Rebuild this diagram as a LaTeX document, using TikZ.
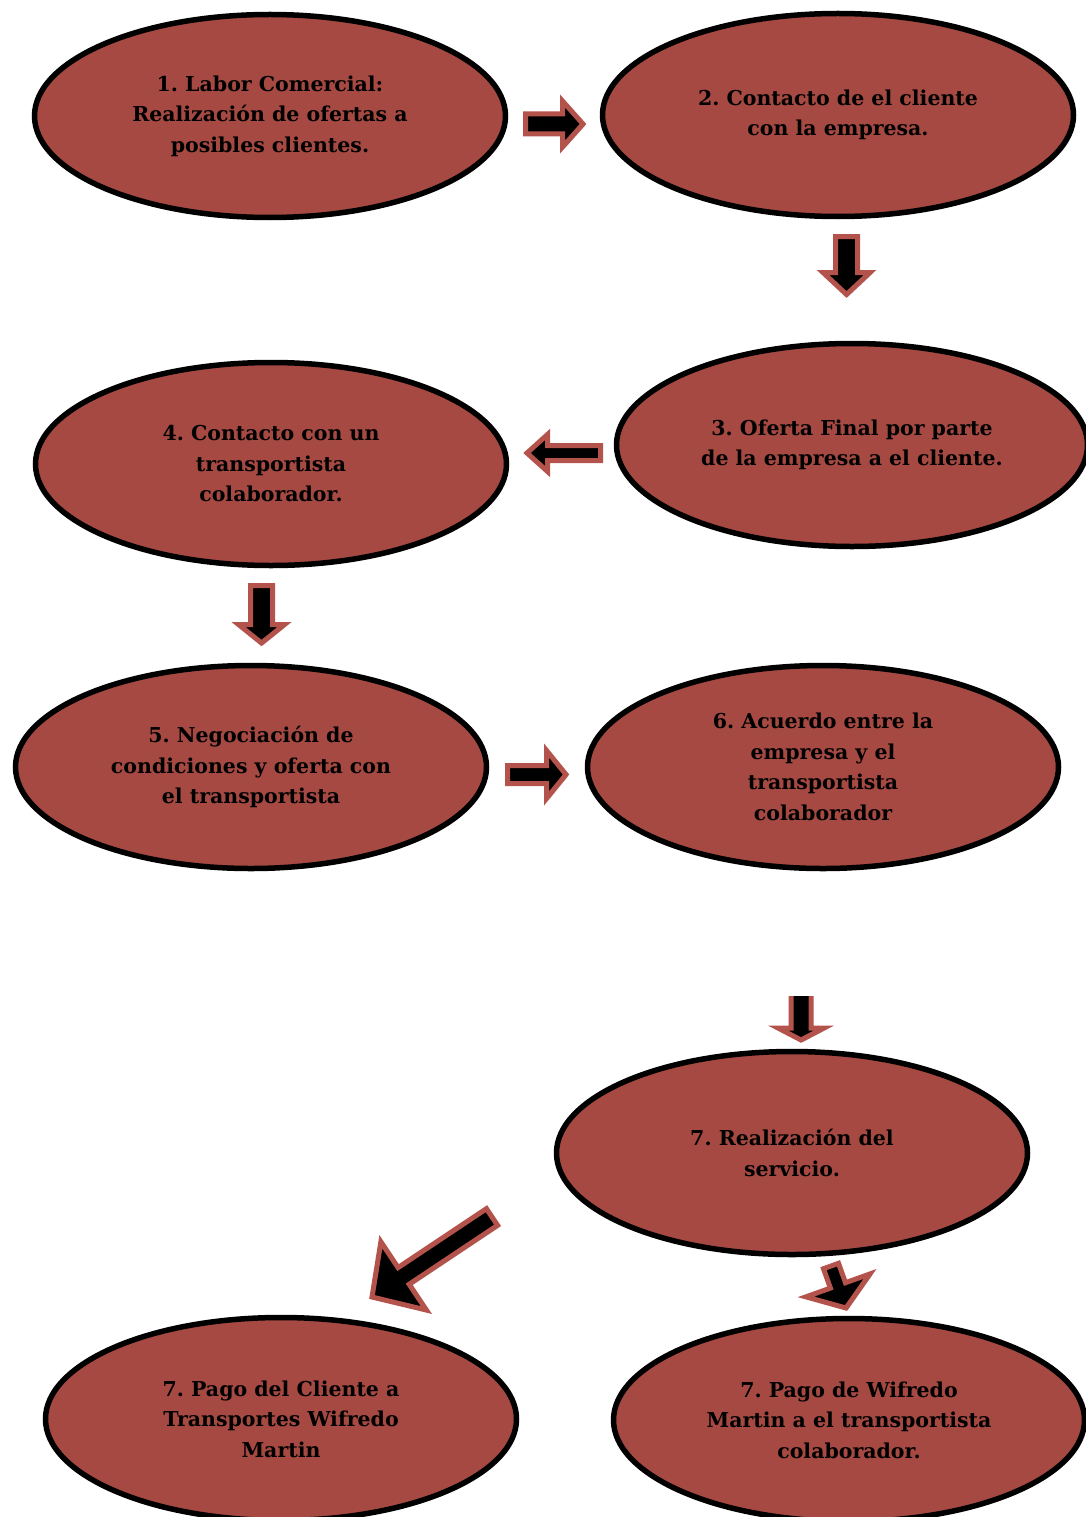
\documentclass[tikz,border=0pt]{standalone}
\usepackage{fontspec}
\setmainfont{DejaVu Serif}
\usetikzlibrary{shapes.geometric,calc,shadows}

\definecolor{stagefill}{RGB}{165,73,66}
\definecolor{arrowred}{RGB}{180,82,76}

\tikzset{
  stage/.style={ellipse, draw=black, line width=5.5pt, fill=stagefill,
    minimum width=471pt, minimum height=203pt, inner sep=0pt, outer sep=0pt,
    align=center, text=black,
    font=\bfseries\fontsize{20.5}{30.5}\selectfont\frenchspacing,
    drop shadow={opacity=0.25, shadow xshift=2pt, shadow yshift=-2pt}},
  blockarrow/.style={draw=arrowred, fill=black, line width=5pt, line join=miter,
    drop shadow={opacity=0.3, shadow xshift=2pt, shadow yshift=-2pt}}
}

% block arrow: name, tail, tip, half shaft width, half head width, head length
\newcommand\blockarrow[6]{%
  \coordinate (#1-tail) at #2;
  \coordinate (#1-tip) at #3;
  \coordinate (#1-base) at ($(#1-tip)!#6!(#1-tail)$);
  \draw[blockarrow]
    ($(#1-tail)!#4!90:(#1-tip)$) -- ($(#1-base)!#4!90:(#1-tip)$) --
    ($(#1-base)!#5!90:(#1-tip)$) -- (#1-tip) --
    ($(#1-base)!#5!-90:(#1-tip)$) -- ($(#1-base)!#4!-90:(#1-tip)$) --
    ($(#1-tail)!#4!-90:(#1-tip)$) -- cycle;
}

\begin{document}
\begin{tikzpicture}[x=1pt, y=-1pt]
\useasboundingbox (0,0) rectangle (1086,1517);
\clip (0,0) rectangle (1086,1517);

% process stages
\node[stage] (s1) at (270,116) {1. Labor Comercial:\\Realización de ofertas a\\posibles clientes.};
\node[stage] (s2) at (838,115) {2. Contacto de el cliente\\con la empresa.};
\node[stage] (s3) at (852,445) {3. Oferta Final por parte\\de la empresa a el cliente.};
\node[stage] (s4) at (271,464) {4. Contacto con un\\transportista\\colaborador.};
\node[stage] (s5) at (251,767) {5. Negociación de\\condiciones y oferta con\\el transportista};
\node[stage] (s6) at (823,767) {6. Acuerdo entre la\\empresa y el\\transportista\\colaborador};
\node[stage] (s7) at (792,1153) {7. Realización del\\servicio.};
\node[stage] (s8) at (281,1419) {7. Pago del Cliente a\\Transportes Wifredo\\Martin};
\node[stage] (s9) at (849,1420) {7. Pago de Wifredo\\Martin a el transportista\\colaborador.};

% flow arrows
\blockarrow{a12}{(525.5,124)}{(583,124)}{10pt}{23pt}{20.5pt}
\blockarrow{a23}{(846.5,236.5)}{(846.5,294.5)}{11pt}{23.5pt}{22pt}
\blockarrow{a34}{(600.5,453)}{(527,453)}{7.5pt}{18.5pt}{20.5pt}
\blockarrow{a45}{(261.5,585.5)}{(261.5,643)}{11pt}{23pt}{18.5pt}
\blockarrow{a56}{(507.5,774.5)}{(566,774.5)}{9pt}{24pt}{19.5pt}
\begin{scope}
  \clip (700,996) rectangle (900,1100);
  \blockarrow{a67}{(801,985)}{(801,1040)}{10pt}{23pt}{12pt}
\end{scope}
\blockarrow{a78}{(492,1217)}{(372,1297)}{10pt}{41pt}{38pt}
\blockarrow{a79}{(831,1266)}{(846,1308)}{8pt}{34pt}{24pt}
\end{tikzpicture}
\end{document}
